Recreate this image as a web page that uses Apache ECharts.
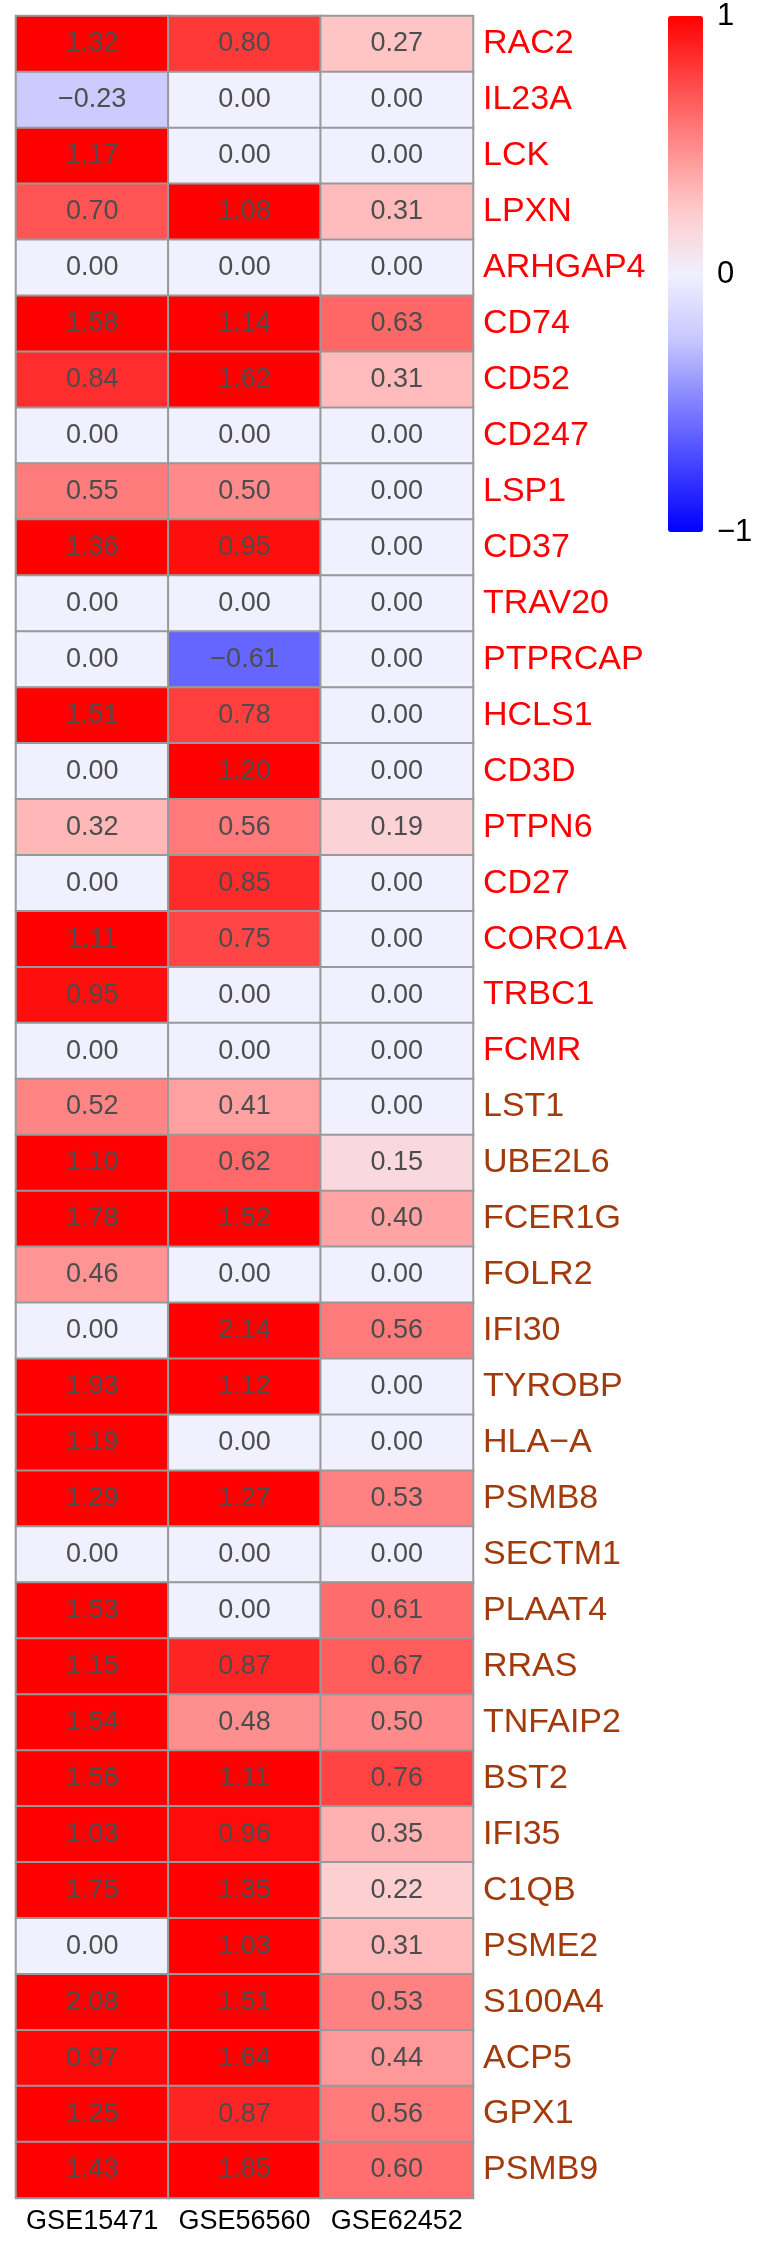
<!DOCTYPE html>
<html><head><meta charset="utf-8">
<script src="https://cdn.jsdelivr.net/npm/echarts@6/dist/echarts.min.js"></script>
<style>html,body{margin:0;padding:0;background:#fff}#c{width:766px;height:2245px}</style>
</head><body><div id="c"></div>
<script>
const datasets = ['GSE15471', 'GSE56560', 'GSE62452'];
const genes = ['RAC2','IL23A','LCK','LPXN','ARHGAP4','CD74','CD52','CD247','LSP1','CD37','TRAV20','PTPRCAP','HCLS1','CD3D','PTPN6','CD27','CORO1A','TRBC1','FCMR',
  'LST1','UBE2L6','FCER1G','FOLR2','IFI30','TYROBP','HLA\u2212A','PSMB8','SECTM1','PLAAT4','RRAS','TNFAIP2','BST2','IFI35','C1QB','PSME2','S100A4','ACP5','GPX1','PSMB9'];
const geneGroup = ['A','A','A','A','A','A','A','A','A','A','A','A','A','A','A','A','A','A','A',
  'B','B','B','B','B','B','B','B','B','B','B','B','B','B','B','B','B','B','B','B'];
const gse15471 = [1.32,-0.23,1.17,0.70,0.00,1.58,0.84,0.00,0.55,1.36,0.00,0.00,1.51,0.00,0.32,0.00,1.11,0.95,0.00,
  0.52,1.10,1.78,0.46,0.00,1.93,1.19,1.29,0.00,1.53,1.15,1.54,1.56,1.03,1.75,0.00,2.08,0.97,1.25,1.43];
const gse56560 = [0.80,0.00,0.00,1.08,0.00,1.14,1.62,0.00,0.50,0.95,0.00,-0.61,0.78,1.20,0.56,0.85,0.75,0.00,0.00,
  0.41,0.62,1.52,0.00,2.14,1.12,0.00,1.27,0.00,0.00,0.87,0.48,1.11,0.96,1.35,1.03,1.51,1.64,0.87,1.85];
const gse62452 = [0.27,0.00,0.00,0.31,0.00,0.63,0.31,0.00,0.00,0.00,0.00,0.00,0.00,0.00,0.19,0.00,0.00,0.00,0.00,
  0.00,0.15,0.40,0.00,0.56,0.00,0.00,0.53,0.00,0.61,0.67,0.50,0.76,0.35,0.22,0.31,0.53,0.44,0.56,0.60];
const colorbarTicks = [-1, 0, 1];

const groupColor = {A: '#FF0000', B: '#A23A0C'};
const columns = [gse15471, gse56560, gse62452];
const data = [];
columns.forEach((col, i) => col.forEach((v, j) => data.push([i, j, v])));
const fmt = v => (v < 0 ? '\u2212' : '') + Math.abs(v).toFixed(2);
const font = '"Liberation Sans", Arial, sans-serif';

const chart = echarts.init(document.getElementById('c'), null, {renderer: 'canvas'});
chart.setOption({
  backgroundColor: '#fff',
  animation: false,
  grid: [
    {left: 16, top: 16, width: 457, height: 2182},
    {left: 668, top: 16, width: 35, height: 516}
  ],
  xAxis: [
    {type: 'category', data: datasets, gridIndex: 0, position: 'bottom',
     axisLine: {show: false}, axisTick: {show: false}, splitLine: {show: false},
     axisLabel: {interval: 0, fontSize: 27, color: '#000', margin: 10, fontFamily: font}},
    {type: 'value', gridIndex: 1, show: false}
  ],
  yAxis: [
    {type: 'category', data: genes, gridIndex: 0, inverse: true, position: 'right',
     axisLine: {show: false}, axisTick: {show: false}, splitLine: {show: false},
     axisLabel: {interval: 0, fontSize: 34, margin: 10, fontFamily: font,
       color: (val, idx) => groupColor[geneGroup[idx]]}},
    {type: 'value', gridIndex: 1, min: colorbarTicks[0], max: colorbarTicks[2], interval: 1, position: 'right',
     axisLine: {show: false}, axisTick: {show: false}, splitLine: {show: false},
     axisLabel: {fontSize: 31, color: '#000', margin: 14, fontFamily: font,
       formatter: v => (v < 0 ? '\u2212' : '') + Math.abs(v)}}
  ],
  visualMap: {
    type: 'continuous', min: -1, max: 1, seriesIndex: 0, calculable: false,
    orient: 'vertical', left: 668, top: 16, itemWidth: 35, itemHeight: 516, padding: 0,
    text: null, realtime: false, hoverLink: false,
    inRange: {color: ['#0000FF','#4040FF','#8282FF','#C8C8FF','#F0F0FF','#FFCACA','#FF8A8A','#FF4646','#FF0000']}
  },
  series: [{
    type: 'heatmap', xAxisIndex: 0, yAxisIndex: 0, data: data,
    itemStyle: {borderColor: '#999999', borderWidth: 2},
    label: {show: true, fontSize: 27, color: '#4D4D4D', fontFamily: font,
      formatter: p => fmt(p.value[2])},
    emphasis: {disabled: true}
  }]
});
</script></body></html>
